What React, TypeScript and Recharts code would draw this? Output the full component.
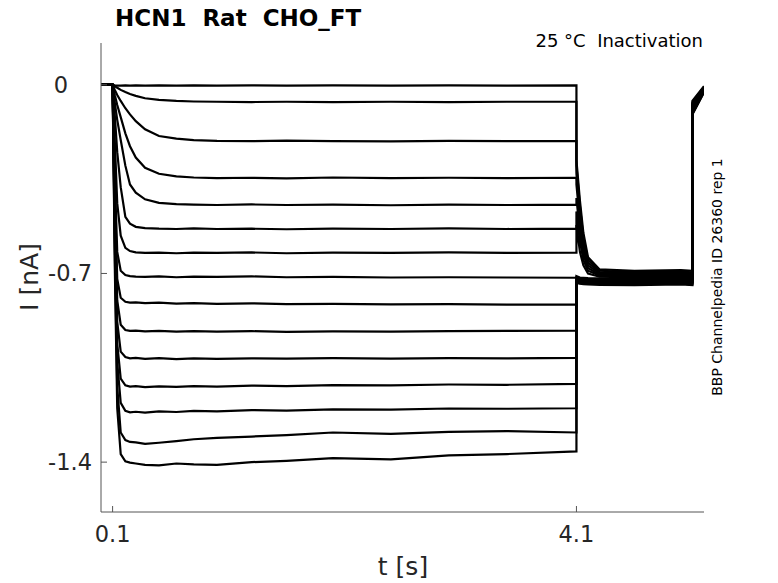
import { LineChart, Line, XAxis, YAxis } from "recharts";

// time points (s) for the test pulse and for the tail
const STEP_TIMES = [0, 0.1, 0.12, 0.14, 0.17, 0.21, 0.25, 0.3, 0.38, 0.5, 0.65, 0.8, 1.0, 1.3, 1.6, 2.0, 2.5, 3.0, 3.5, 4.1];
const TAIL_TIMES = [4.1, 4.13, 4.16, 4.2, 4.3, 4.6, 5.0, 5.1, 5.1, 5.2];

// current (nA) per sweep: pulse part + tail part
const SWEEP_01 = [0, 0, -0.002, -0.003, -0.003, -0.002, -0.003, -0.002, -0.003, -0.002, -0.003, -0.002, -0.003, -0.002, -0.003, -0.002, -0.003, -0.002, -0.003, -0.002,
  -0.28, -0.43, -0.55, -0.64, -0.685, -0.69, -0.688, -0.69, -0.06, -0.005];
const SWEEP_02 = [0, 0, -0.006, -0.011, -0.019, -0.027, -0.034, -0.041, -0.05, -0.056, -0.06, -0.062, -0.063, -0.064, -0.063, -0.064, -0.063, -0.064, -0.063, -0.063,
  -0.3, -0.45, -0.57, -0.65, -0.69, -0.695, -0.693, -0.696, -0.065, -0.008];
const SWEEP_03 = [0, 0, -0.02, -0.038, -0.06, -0.087, -0.11, -0.135, -0.165, -0.19, -0.2, -0.205, -0.208, -0.209, -0.207, -0.209, -0.21, -0.208, -0.209, -0.209,
  -0.33, -0.48, -0.59, -0.66, -0.695, -0.7, -0.698, -0.701, -0.07, -0.01];
const SWEEP_04 = [0, 0, -0.04, -0.075, -0.12, -0.18, -0.228, -0.27, -0.308, -0.33, -0.34, -0.344, -0.346, -0.345, -0.347, -0.344, -0.346, -0.345, -0.346, -0.345,
  -0.37, -0.51, -0.61, -0.67, -0.7, -0.705, -0.703, -0.706, -0.075, -0.012];
const SWEEP_05 = [0, 0, -0.07, -0.13, -0.205, -0.3, -0.37, -0.4, -0.425, -0.438, -0.443, -0.445, -0.446, -0.444, -0.446, -0.445, -0.447, -0.445, -0.446, -0.445,
  -0.42, -0.55, -0.63, -0.68, -0.705, -0.708, -0.706, -0.709, -0.08, -0.014];
const SWEEP_06 = [0, 0, -0.12, -0.25, -0.38, -0.49, -0.515, -0.527, -0.532, -0.534, -0.535, -0.533, -0.535, -0.534, -0.536, -0.534, -0.535, -0.533, -0.535, -0.534,
  -0.47, -0.58, -0.65, -0.69, -0.708, -0.712, -0.71, -0.713, -0.085, -0.016];
const SWEEP_07 = [0, 0, -0.22, -0.44, -0.56, -0.605, -0.617, -0.622, -0.624, -0.623, -0.625, -0.623, -0.624, -0.622, -0.625, -0.623, -0.624, -0.622, -0.624, -0.623,
  -0.52, -0.62, -0.67, -0.7, -0.712, -0.715, -0.713, -0.716, -0.09, -0.018];
const SWEEP_08 = [0, 0, -0.36, -0.62, -0.69, -0.706, -0.71, -0.712, -0.713, -0.711, -0.714, -0.712, -0.713, -0.711, -0.714, -0.713, -0.715, -0.714, -0.715, -0.716,
  -0.71, -0.715, -0.716, -0.717, -0.718, -0.72, -0.718, -0.72, -0.092, -0.02];
const SWEEP_09 = [0, 0, -0.42, -0.72, -0.79, -0.805, -0.808, -0.807, -0.81, -0.808, -0.812, -0.81, -0.813, -0.811, -0.814, -0.813, -0.815, -0.814, -0.816, -0.816,
  -0.715, -0.72, -0.72, -0.722, -0.722, -0.724, -0.722, -0.725, -0.095, -0.02];
const SWEEP_10 = [0, 0, -0.48, -0.8, -0.89, -0.91, -0.913, -0.912, -0.915, -0.913, -0.916, -0.914, -0.916, -0.914, -0.917, -0.915, -0.916, -0.914, -0.913, -0.912,
  -0.72, -0.724, -0.725, -0.726, -0.726, -0.728, -0.726, -0.728, -0.098, -0.022];
const SWEEP_11 = [0, 0, -0.52, -0.88, -0.99, -1.01, -1.015, -1.013, -1.017, -1.014, -1.018, -1.015, -1.017, -1.015, -1.016, -1.014, -1.016, -1.014, -1.015, -1.013,
  -0.724, -0.727, -0.728, -0.73, -0.73, -0.731, -0.729, -0.731, -0.1, -0.022];
const SWEEP_12 = [0, 0, -0.56, -0.96, -1.09, -1.115, -1.12, -1.118, -1.122, -1.119, -1.121, -1.118, -1.12, -1.116, -1.118, -1.114, -1.115, -1.112, -1.113, -1.11,
  -0.727, -0.73, -0.731, -0.733, -0.733, -0.734, -0.732, -0.734, -0.102, -0.024];
const SWEEP_13 = [0, 0, -0.6, -1.03, -1.18, -1.21, -1.215, -1.213, -1.216, -1.212, -1.214, -1.21, -1.212, -1.207, -1.209, -1.204, -1.205, -1.201, -1.202, -1.2,
  -0.73, -0.733, -0.734, -0.736, -0.736, -0.737, -0.735, -0.737, -0.105, -0.025];
const SWEEP_14 = [0, 0, -0.65, -1.12, -1.29, -1.318, -1.325, -1.327, -1.332, -1.328, -1.322, -1.315, -1.31, -1.305, -1.3, -1.29, -1.295, -1.288, -1.285, -1.29,
  -0.733, -0.736, -0.737, -0.738, -0.739, -0.74, -0.738, -0.74, -0.108, -0.026];
const SWEEP_15 = [0, 0, -0.7, -1.2, -1.37, -1.397, -1.402, -1.405, -1.41, -1.412, -1.405, -1.408, -1.41, -1.4, -1.395, -1.385, -1.39, -1.375, -1.37, -1.36,
  -0.735, -0.738, -0.74, -0.741, -0.742, -0.743, -0.741, -0.743, -0.11, -0.028];

const SWEEPS = [SWEEP_01, SWEEP_02, SWEEP_03, SWEEP_04, SWEEP_05, SWEEP_06, SWEEP_07, SWEEP_08,
  SWEEP_09, SWEEP_10, SWEEP_11, SWEEP_12, SWEEP_13, SWEEP_14, SWEEP_15];

const X_TICKS = [0.1, 4.1];
const Y_TICKS = [-1.4, -0.7, 0];

const TIMES = [...STEP_TIMES, ...TAIL_TIMES];
const FONT = "'DejaVu Sans', sans-serif";
const AXIS = "#555";
const TEXT = "#262626";

const XTick = (props: any) => {
  const { x, y, payload } = props;
  return (
    <g>
      <line x1={x} x2={x} y1={y} y2={y - 6} stroke={AXIS} />
      <text x={x} y={y + 30} textAnchor="middle" fontSize={22.5} fontFamily={FONT} fill={TEXT}>
        {String(payload.value)}
      </text>
    </g>
  );
};

const YTick = (props: any) => {
  const { x, y, payload } = props;
  // matlab pads the short "0" label, so it sits further left
  const tx = payload.value === 0 ? x - 24 : x;
  return (
    <g>
      <line x1={x + 9} x2={x + 15} y1={y} y2={y} stroke={AXIS} />
      <text x={tx} y={y + 8} textAnchor="end" fontSize={22.5} fontFamily={FONT} fill={TEXT}>
        {String(payload.value)}
      </text>
    </g>
  );
};

const App = () => {
  const sweeps = SWEEPS.map((vals) => vals.map((v, k) => ({ t: TIMES[k], i: v })));

  return (
    <div style={{ position: "absolute", left: 0, top: 0, width: 778, height: 583, background: "#fff" }}>
      <LineChart width={778} height={583} margin={{ top: 43, right: 74, bottom: 0, left: 0 }}>
        <XAxis
          type="number"
          dataKey="t"
          domain={[0, 5.2]}
          ticks={X_TICKS}
          allowDataOverflow
          height={71}
          tickSize={0}
          tickMargin={0}
          tickLine={false}
          axisLine={{ stroke: AXIS }}
          tick={<XTick />}
        />
        <YAxis
          type="number"
          domain={[-1.585, 0.155]}
          ticks={Y_TICKS}
          allowDataOverflow
          width={101}
          tickSize={0}
          tickMargin={9}
          tickLine={false}
          axisLine={{ stroke: AXIS }}
          tick={<YTick />}
        />
        {sweeps.map((d, n) => (
          <Line
            key={n}
            data={d}
            dataKey="i"
            type="linear"
            stroke="#000"
            strokeWidth={2.2}
            dot={false}
            isAnimationActive={false}
          />
        ))}
      </LineChart>
      <svg width={778} height={583} style={{ position: "absolute", left: 0, top: 0, pointerEvents: "none" }}>
        <text x={115} y={26} fontSize={23} fontWeight="bold" fontFamily={FONT} fill="#000">
          HCN1{"\u00a0\u00a0"}Rat{"\u00a0\u00a0"}CHO_FT
        </text>
        <text x={703} y={47} textAnchor="end" fontSize={18} fontFamily={FONT} fill="#000">
          25 °C{"\u00a0\u00a0"}Inactivation
        </text>
        <text x={403} y={575} textAnchor="middle" fontSize={25} fontFamily={FONT} fill={TEXT}>
          t [s]
        </text>
        <text x={38} y={277} textAnchor="middle" fontSize={25} fontFamily={FONT} fill={TEXT} transform="rotate(-90 38 277)">
          I [nA]
        </text>
        <text x={722} y={277} textAnchor="middle" fontSize={14} fontFamily={FONT} fill="#000" transform="rotate(-90 722 277)">
          BBP Channelpedia ID 26360 rep 1
        </text>
      </svg>
    </div>
  );
};

export default App;
